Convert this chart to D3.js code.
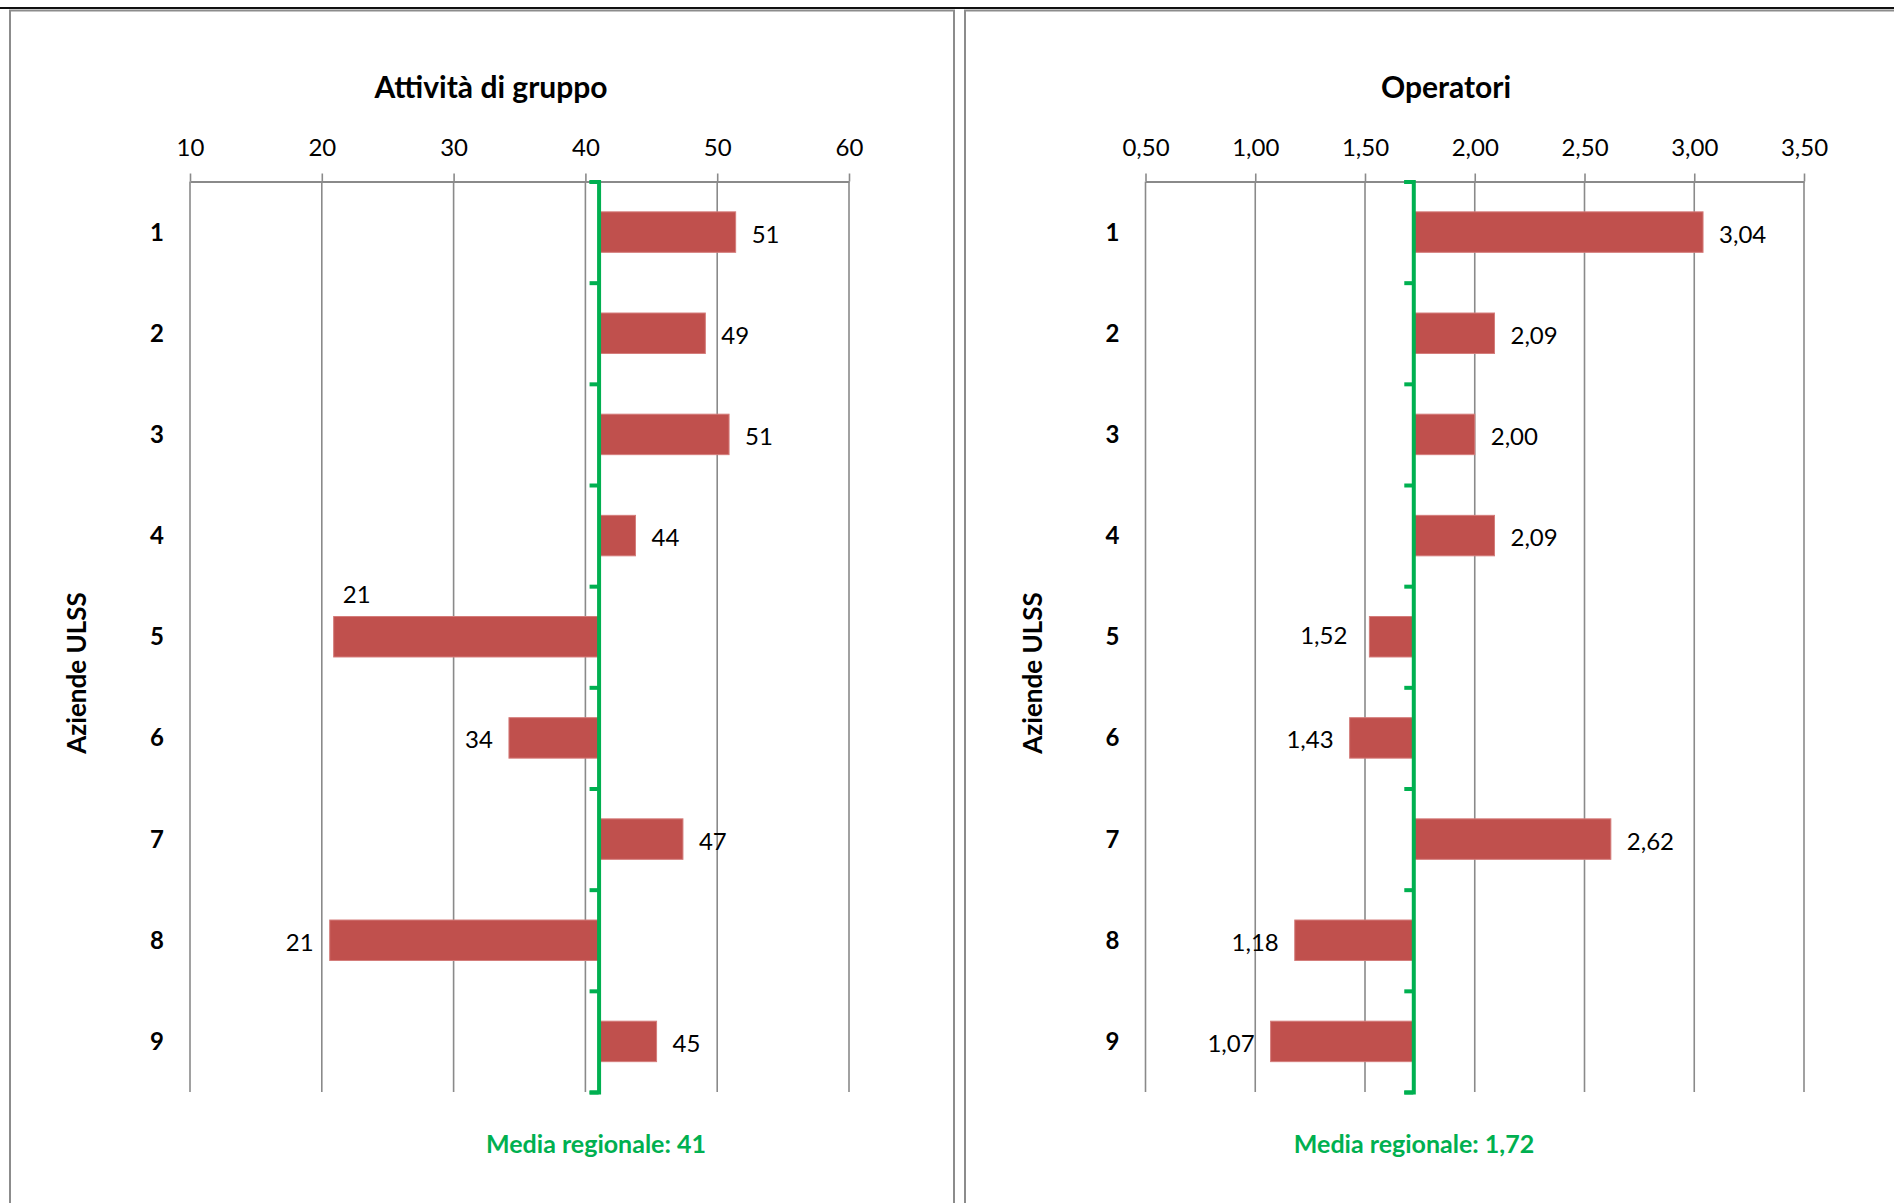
<!DOCTYPE html>
<html>
<head>
<meta charset="utf-8">
<script src="https://cdn.jsdelivr.net/npm/d3@7"></script>
<style>
  html, body { margin: 0; padding: 0; background: #fff; }
  svg { display: block; }
  text { font-family: Lato, "Open Sans", "Liberation Sans", sans-serif; }
</style>
</head>
<body>
<svg id="chart" width="1894" height="1203"></svg>
<script>
// ---------------- DATA ----------------
const categories = ["1", "2", "3", "4", "5", "6", "7", "8", "9"];
const attivitaValues = [51.4, 49.1, 50.9, 43.8, 20.9, 34.2, 47.4, 20.6, 45.4];
const attivitaMean = 41;
const attivitaTicks = [10, 20, 30, 40, 50, 60];
const operatoriValues = [3.04, 2.09, 2.00, 2.09, 1.52, 1.43, 2.62, 1.18, 1.07];
const operatoriMean = 1.72;
const operatoriTicks = [0.5, 1.0, 1.5, 2.0, 2.5, 3.0, 3.5];
const titles = ["Attività di gruppo", "Operatori"];
const yAxisTitle = "Aziende ULSS";
const meanLabelPrefix = "Media regionale: ";

// ---------------- STYLE / LAYOUT ----------------
const BAR = "#C0504D", BAR_EDGE = "#D47C7A", GREEN = "#00B050", GRID = "#8a8a8a";
const FS = 24;
const it = d3.formatLocale({decimal: ",", thousands: ".", grouping: [3], currency: ["€", ""]});
const svg = d3.select("#chart");

svg.append("rect").attr("width", 1894).attr("height", 1203).attr("fill", "#fff");

// panel frames
svg.append("rect").attr("x", 10).attr("y", 10.5).attr("width", 944).attr("height", 1300)
  .attr("fill", "none").attr("stroke", "#8c8c8c").attr("stroke-width", 2);
svg.append("rect").attr("x", 965).attr("y", 10.5).attr("width", 1000).attr("height", 1300)
  .attr("fill", "none").attr("stroke", "#8c8c8c").attr("stroke-width", 2);
svg.append("line").attr("x1", 0).attr("x2", 1894).attr("y1", 8).attr("y2", 8)
  .attr("stroke", "#111").attr("stroke-width", 2.2);

const plotTop = 181.5, plotBottom = 1092;
const y = d3.scaleBand().domain(categories).range([plotTop, plotBottom])
  .paddingInner(0.6).paddingOuter(0.3);
const yEdges = d3.scaleLinear().domain([0, categories.length]).range([plotTop, plotBottom]);

function drawPanel(cfg) {
  const x = d3.scaleLinear().domain(cfg.domain).range(cfg.range);
  const g = svg.append("g");

  // title
  g.append("text").attr("x", cfg.titleX).attr("y", 98).attr("text-anchor", "middle")
    .attr("font-size", 30).attr("font-weight", 700).attr("fill", "#000").text(cfg.title);

  // gridlines
  g.append("g").selectAll("line").data(cfg.ticks).join("line")
    .attr("x1", d => x(d)).attr("x2", d => x(d))
    .attr("y1", plotTop).attr("y2", plotBottom)
    .attr("stroke", GRID).attr("stroke-width", 1.6);

  // top axis
  const ax = g.append("g").attr("transform", `translate(0,${plotTop})`)
    .call(d3.axisTop(x).tickValues(cfg.ticks).tickFormat(cfg.tickFormat)
      .tickSize(8).tickSizeOuter(0).tickPadding(17.5));
  ax.select(".domain").attr("stroke", GRID).attr("stroke-width", 2);
  ax.selectAll(".tick line").attr("stroke", GRID).attr("stroke-width", 1.6);
  ax.selectAll(".tick text").attr("font-size", FS).attr("fill", "#000")
    .attr("font-family", "Lato, 'Open Sans', sans-serif");

  // category labels
  g.append("g").selectAll("text").data(categories).join("text")
    .attr("x", cfg.range[0] - 33).attr("y", d => y(d) + y.bandwidth() / 2 + 8.5)
    .attr("text-anchor", "middle").attr("font-size", FS).attr("font-weight", 700)
    .attr("fill", "#000").text(d => d);

  // y axis title
  const ytx = cfg.range[0] - 113, yty = 673;
  g.append("text").attr("transform", `translate(${ytx + 9},${yty}) rotate(-90)`)
    .attr("text-anchor", "middle").attr("font-size", 26).attr("font-weight", 700)
    .attr("fill", "#000").text(yAxisTitle);

  // bars from the mean
  const xm = x(cfg.mean);
  const rows = categories.map((c, i) => ({c, v: cfg.values[i], i}));
  g.append("g").selectAll("rect").data(rows).join("rect")
    .attr("x", d => Math.min(xm, x(d.v))).attr("width", d => Math.abs(x(d.v) - xm))
    .attr("y", d => y(d.c)).attr("height", y.bandwidth())
    .attr("fill", BAR).attr("stroke", BAR_EDGE).attr("stroke-width", 1);

  // data labels
  g.append("g").selectAll("text").data(rows).join("text")
    .attr("x", d => {
      const n = cfg.nudge[d.i] || [0, 0];
      return (d.v >= cfg.mean ? x(d.v) + 16 : x(d.v) - 16) + n[0];
    })
    .attr("y", d => y(d.c) + y.bandwidth() / 2 + 10.5 + (cfg.nudge[d.i] || [0, 0])[1])
    .attr("text-anchor", d => {
      if (cfg.nudge[d.i] && cfg.nudge[d.i][2]) return cfg.nudge[d.i][2];
      return d.v >= cfg.mean ? "start" : "end";
    })
    .attr("font-size", FS).attr("fill", "#000").text(d => cfg.labelFormat(d.v));

  // mean line as green axis with boundary ticks
  const mAx = g.append("g").attr("transform", `translate(${xm},0)`)
    .call(d3.axisLeft(yEdges).tickValues(d3.range(0, categories.length + 1))
      .tickFormat("").tickSize(9).tickSizeOuter(9));
  mAx.select(".domain").attr("stroke", GREEN).attr("stroke-width", 4);
  mAx.selectAll(".tick line").attr("stroke", GREEN).attr("stroke-width", 4);

  // mean label
  g.append("text").attr("x", cfg.meanLabelX).attr("y", 1153).attr("text-anchor", "middle")
    .attr("font-size", 25).attr("font-weight", 700).attr("fill", GREEN)
    .text(meanLabelPrefix + cfg.labelFormatMean(cfg.mean));
}

drawPanel({
  title: titles[0], titleX: 491,
  domain: [10, 60], range: [190, 849],
  ticks: attivitaTicks, tickFormat: d3.format("d"),
  values: attivitaValues, mean: attivitaMean,
  labelFormat: it.format(".0f"), labelFormatMean: it.format(".0f"),
  meanLabelX: 596,
  nudge: {4: [39, -44, "middle"]}
});

drawPanel({
  title: titles[1], titleX: 1446,
  domain: [0.5, 3.5], range: [1145.5, 1804],
  ticks: operatoriTicks, tickFormat: it.format(".2f"),
  values: operatoriValues, mean: operatoriMean,
  labelFormat: it.format(".2f"), labelFormatMean: it.format(".2f"),
  meanLabelX: 1414,
  nudge: {4: [-6, -3]}
});
</script>
</body>
</html>
